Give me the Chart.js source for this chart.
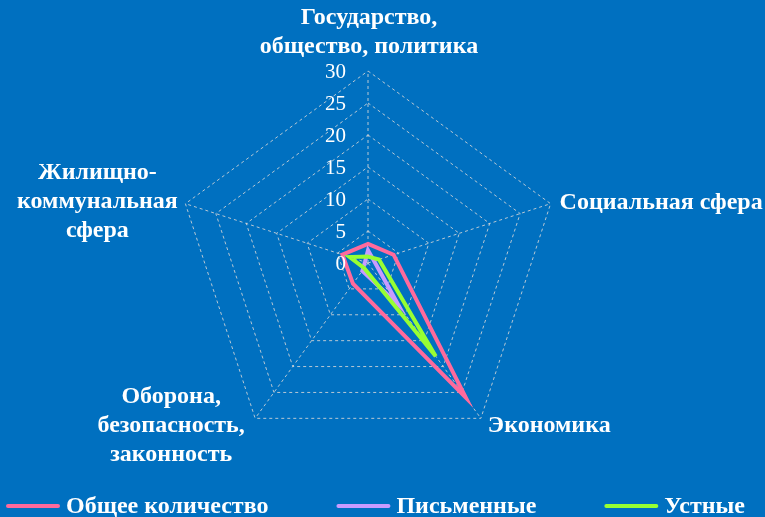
<!DOCTYPE html>
<html>
<head>
<meta charset="utf-8">
<script src="https://cdn.jsdelivr.net/npm/chart.js@4.4.1/dist/chart.umd.min.js"></script>
<style>
  html, body { margin: 0; padding: 0; background: #0070C0; }
  #radarChart { display: block; }
</style>
</head>
<body>
<canvas id="radarChart" width="765" height="517"></canvas>
<script>
// categories (axes) and series values
const categories = [
  ['Государство,', 'общество, политика'],
  ['Социальная сфера'],
  ['Экономика'],
  ['Оборона,', 'безопасность,', 'законность'],
  ['Жилищно-', 'коммунальная', 'сфера']
];
const seriesNames = ['Общее количество', 'Письменные', 'Устные'];
const totalValues = [3, 4.2, 26, 4, 4.2];
const writtenValues = [2, 1, 8, 1.5, 0.5];
const oralValues = [1, 1.8, 18, 1, 3];
const tickLabels = [0, 5, 10, 15, 20, 25, 30];

const seriesColors = ['#FF6A9C', '#C99BFF', '#97FF33'];
const textFont = '"Liberation Serif", "Times New Roman", serif';

// tick numbers sit left of the vertical axis, not on top of it
const tickLabelPlugin = {
  id: 'tickLabels',
  afterDatasetsDraw(chart) {
    const scale = chart.scales.r;
    const { ctx } = chart;
    ctx.save();
    ctx.fillStyle = '#ffffff';
    ctx.font = '21px ' + textFont;
    ctx.textAlign = 'right';
    ctx.textBaseline = 'middle';
    tickLabels.forEach(v => {
      const y = scale.yCenter - scale.getDistanceFromCenterForValue(v);
      ctx.fillText(String(v), scale.xCenter - 22, y + 1);
    });
    ctx.restore();
  }
};

// category names, placed like the original (centred blocks next to the vertices)
const pointLabelPlugin = {
  id: 'pointLabelsCustom',
  afterDraw(chart) {
    const scale = chart.scales.r;
    const { ctx } = chart;
    const place = [
      { align: 'center', dx: 1, dy: -38.5 },
      { align: 'left', dx: 9, dy: -1 },
      { align: 'left', dx: 7, dy: 7 },
      { align: 'center', dx: -84, dy: 7.5 },
      { align: 'center', dx: -88, dy: -1.5 }
    ];
    const lh = 29;
    ctx.save();
    ctx.fillStyle = '#ffffff';
    ctx.font = 'bold 24px ' + textFont;
    ctx.textBaseline = 'middle';
    categories.forEach((lines, i) => {
      const pos = scale.getPointPositionForValue(i, scale.max);
      const p = place[i];
      ctx.textAlign = p.align;
      const cy = pos.y + p.dy;
      const startY = cy - (lines.length - 1) * lh / 2;
      lines.forEach((line, j) => {
        ctx.fillText(line, pos.x + p.dx, startY + j * lh);
      });
    });
    ctx.restore();
  }
};

// legend with line samples, spaced wide like the source
const legendPlugin = {
  id: 'wideLegend',
  afterDraw(chart) {
    const { ctx } = chart;
    const y = 506;
    let x = 6;
    ctx.save();
    ctx.font = 'bold 24px ' + textFont;
    ctx.textAlign = 'left';
    ctx.textBaseline = 'middle';
    chart.data.datasets.forEach(ds => {
      ctx.strokeStyle = ds.borderColor;
      ctx.lineWidth = 4;
      ctx.lineCap = 'round';
      ctx.beginPath();
      ctx.moveTo(x + 2, y);
      ctx.lineTo(x + 52, y);
      ctx.stroke();
      ctx.fillStyle = '#ffffff';
      ctx.fillText(ds.label, x + 60, y + 1);
      x += 60 + ctx.measureText(ds.label).width + 68;
    });
    ctx.restore();
  }
};

const ctx = document.getElementById('radarChart').getContext('2d');
new Chart(ctx, {
  type: 'radar',
  data: {
    labels: categories,
    datasets: [
      { label: seriesNames[0], data: totalValues, borderColor: seriesColors[0], order: 2 },
      { label: seriesNames[1], data: writtenValues, borderColor: seriesColors[1], order: 1 },
      { label: seriesNames[2], data: oralValues, borderColor: seriesColors[2], order: 0 }
    ].map(ds => Object.assign(ds, {
      fill: false,
      borderWidth: 4,
      pointRadius: 0,
      pointHoverRadius: 0,
      backgroundColor: 'transparent'
    }))
  },
  options: {
    responsive: false,
    animation: false,
    layout: { padding: { top: 71, bottom: 62, left: 0, right: 29 } },
    scales: {
      r: {
        min: 0,
        max: 30,
        ticks: { display: false, stepSize: 5 },
        pointLabels: { display: false },
        grid: { color: 'rgba(215,215,215,0.85)', lineWidth: 1 },
        border: { dash: [3, 3] },
        angleLines: { color: 'rgba(215,215,215,0.85)', lineWidth: 1, borderDash: [3, 3] }
      }
    },
    plugins: {
      legend: { display: false },
      tooltip: { enabled: false }
    }
  },
  plugins: [tickLabelPlugin, pointLabelPlugin, legendPlugin]
});
</script>
</body>
</html>
